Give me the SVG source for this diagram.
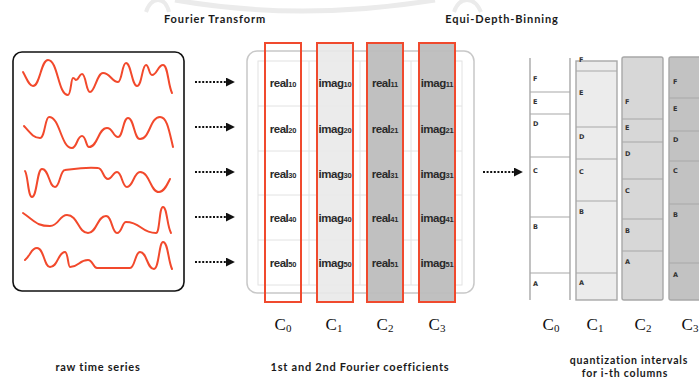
<svg xmlns="http://www.w3.org/2000/svg" width="699" height="379" viewBox="0 0 699 379">
  <defs>
    <marker id="arrowhead" viewBox="0 0 10 10" refX="9" refY="5" markerWidth="4.5" markerHeight="4.5" orient="auto" markerUnits="strokeWidth">
      <path d="M0,0 L10,5 L0,10 Z" fill="#111"/>
    </marker>
    <style>
      .title { font-family: Lato, "Open Sans", sans-serif; font-weight: 700; font-size: 11px; letter-spacing: 0.9px; fill: #1a1a1a; text-anchor: middle; }
      .caption { font-family: Lato, "Open Sans", sans-serif; font-weight: 700; font-size: 11px; letter-spacing: 0.75px; fill: #1a1a1a; text-anchor: middle; }
      .caption-sm { font-size: 10.5px; letter-spacing: 0.8px; }
      .wave { fill: none; stroke: #f2492c; stroke-width: 2; stroke-linecap: round; stroke-linejoin: round; }
      .flow { fill: none; stroke: #111; stroke-width: 2; stroke-dasharray: 2 1.6; marker-end: url(#arrowhead); }
      .grid { fill: none; stroke: #e2e2e2; stroke-width: 1; }
      .col { stroke: #f04a2e; stroke-width: 2; }
      .cell { font-family: "Liberation Sans", Arial, sans-serif; font-weight: 700; font-size: 11.5px; fill: #2a2a2a; text-anchor: middle; letter-spacing: -0.5px; }
      .sub { font-size: 7.5px; letter-spacing: -0.2px; }
      .clabel { font-family: "Liberation Serif", "Times New Roman", serif; font-size: 17px; fill: #111; text-anchor: middle; }
      .csub { font-size: 11px; }
      .bin { stroke: #a8a8a8; stroke-width: 1.4; }
      .binline { stroke: #a8a8a8; stroke-width: 1.2; }
      .blabel { font-family: "DejaVu Sans", sans-serif; font-weight: 700; font-size: 6.5px; fill: #333; }
    </style>
  </defs>

  <rect width="699" height="379" fill="#ffffff"/>

  <!-- faint emblem at the top edge -->
  <g id="emblem" fill="none" stroke="#ebebeb" stroke-width="5">
    <path d="M175,0 Q300,22 435,0"/>
    <path d="M146,12 Q150,0 158,0 Q166,0 169,12" stroke-width="4"/>
    <path d="M454,12 Q458,0 467,0 Q476,0 481,12" stroke-width="4"/>
  </g>

  <!-- stage titles -->
  <g id="titles">
    <text class="title" x="215" y="23">Fourier Transform</text>
    <text class="title" x="502" y="23">Equi-Depth-Binning</text>
  </g>

  <!-- raw time series panel -->
  <g id="raw-series">
    <rect x="13" y="52" width="171" height="239" rx="9" fill="#fff" stroke="#111" stroke-width="1.6"/>
    <path class="wave" d="M23,72 C27,79 29,86 33,86 C40,86 41,60 48,60 C58,60 58,95 68,95 C71,95 71,78 73,78 C75,78 75,80 76,80 C79,80 79,74 82,74 C86,74 86,92 90,92 C95,92 97,73 103,73 C110,73 112,82 118,82 C122,82 122,63 126,63 C131,63 132,86 137,86 C142,86 142,65 146,65 C149,65 149,75 152,75 C157,75 158,65 163,65 C168,65 168,85 172,93"/>
    <path class="wave" d="M24,126 C31,134 34,138 40,138 C45,138 45,117 49,117 C60,117 61,148 72,148 C77,148 77,136 82,136 C86,136 86,147 89,147 C98,147 98,128 107,128 C113,128 113,137 118,137 C123,137 123,118 128,118 C134,118 134,139 140,139 C150,139 150,117 160,117 C167,117 169,130 173,147"/>
    <path class="wave" d="M25,171 C28,175 28,197 32,197 C37,197 37,169 42,169 C49,169 49,187 55,187 C60,187 60,170 65,170 C80,168 85,167 98,168 C103,168 103,179 108,179 C112,179 113,172 117,172 C122,172 122,187 127,187 C133,187 134,172 140,172 C150,172 150,192 159,192 C164,192 167,185 170,179"/>
    <path class="wave" d="M23,213 C36,222 37,226 50,226 C59,226 59,215 67,215 C78,215 78,233 88,233 C97,233 97,216 106,216 C112,216 112,233 117,233 C122,233 122,222 126,222 C141,222 141,233 156,233 C160,233 159,207 163,207 C167,207 167,226 171,233"/>
    <path class="wave" d="M25,260 C31,255 31,248 37,248 C44,248 44,267 50,267 C58,267 58,252 65,252 C68,252 68,267 70,267 C79,267 79,260 88,260 C93,260 93,268 97,268 C113,268 114,268 130,268 C135,268 135,252 140,252 C147,252 147,269 154,269 C159,269 159,242 163,242 C168,242 168,260 172,269"/>
  </g>

  <!-- Fourier coefficient table -->
  <g id="coeff-table">
    <rect x="247" y="51" width="227" height="242" rx="10" fill="#fff" stroke="#c8c8c8" stroke-width="1.5"/>
    <rect class="grid" x="258" y="61" width="204" height="224"/>
    <path class="grid" d="M309,61 V285 M360,61 V285 M411,61 V285 M258,106 H462 M258,151 H462 M258,195 H462 M258,240 H462"/>
  </g>

  <g id="col-c0">
    <rect class="col" x="265" y="43" width="36" height="259" fill="none"/>
  </g>
  <g id="col-c1">
    <rect class="col" x="317" y="43" width="36" height="259" fill="#e9e9e9" fill-opacity="0.9"/>
  </g>
  <g id="col-c2">
    <rect class="col" x="367" y="43" width="36" height="259" fill="#bdbdbd" fill-opacity="0.95"/>
  </g>
  <g id="col-c3">
    <rect class="col" x="419" y="43" width="36" height="259" fill="#bdbdbd" fill-opacity="0.95"/>
  </g>

  <g id="cells">
    <text class="cell" x="283" y="87">real<tspan class="sub">10</tspan></text>
    <text class="cell" x="335" y="87">imag<tspan class="sub">10</tspan></text>
    <text class="cell" x="385" y="87">real<tspan class="sub">11</tspan></text>
    <text class="cell" x="437" y="87">imag<tspan class="sub">11</tspan></text>

    <text class="cell" x="283" y="133">real<tspan class="sub">20</tspan></text>
    <text class="cell" x="335" y="133">imag<tspan class="sub">20</tspan></text>
    <text class="cell" x="385" y="133">real<tspan class="sub">21</tspan></text>
    <text class="cell" x="437" y="133">imag<tspan class="sub">21</tspan></text>

    <text class="cell" x="283" y="178">real<tspan class="sub">30</tspan></text>
    <text class="cell" x="335" y="178">imag<tspan class="sub">30</tspan></text>
    <text class="cell" x="385" y="178">real<tspan class="sub">31</tspan></text>
    <text class="cell" x="437" y="178">imag<tspan class="sub">31</tspan></text>

    <text class="cell" x="283" y="222">real<tspan class="sub">40</tspan></text>
    <text class="cell" x="335" y="222">imag<tspan class="sub">40</tspan></text>
    <text class="cell" x="385" y="222">real<tspan class="sub">41</tspan></text>
    <text class="cell" x="437" y="222">imag<tspan class="sub">41</tspan></text>

    <text class="cell" x="283" y="267">real<tspan class="sub">50</tspan></text>
    <text class="cell" x="335" y="267">imag<tspan class="sub">50</tspan></text>
    <text class="cell" x="385" y="267">real<tspan class="sub">51</tspan></text>
    <text class="cell" x="437" y="267">imag<tspan class="sub">51</tspan></text>
  </g>

  <!-- quantization intervals -->
  <g id="bins-c0">
    <path class="bin" d="M530,58 V300 M570,58 V300"/>
    <path class="binline" d="M530,92 H570 M530,114 H570 M530,157 H570 M530,217 H570 M530,273 H570"/>
    <text class="blabel" x="533" y="81">F</text>
    <text class="blabel" x="533" y="104">E</text>
    <text class="blabel" x="533" y="126">D</text>
    <text class="blabel" x="533" y="173">C</text>
    <text class="blabel" x="533" y="229">B</text>
    <text class="blabel" x="533" y="286">A</text>
  </g>
  <g id="bins-c1">
    <rect class="bin" x="576" y="61" width="41" height="239" fill="#ececec"/>
    <path class="binline" d="M576,71 H617 M576,127 H617 M576,159 H617 M576,201 H617 M576,273 H617"/>
    <text class="blabel" x="579" y="62">F</text>
    <text class="blabel" x="579" y="95">E</text>
    <text class="blabel" x="579" y="139">D</text>
    <text class="blabel" x="579" y="174">C</text>
    <text class="blabel" x="579" y="214">B</text>
    <text class="blabel" x="579" y="285">A</text>
  </g>
  <g id="bins-c2">
    <rect class="bin" x="622" y="57" width="41" height="243" rx="2" fill="#d7d7d7"/>
    <path class="binline" d="M622,119 H663 M622,142 H663 M622,179 H663 M622,219 H663 M622,251 H663"/>
    <text class="blabel" x="625" y="104">F</text>
    <text class="blabel" x="625" y="130">E</text>
    <text class="blabel" x="625" y="156">D</text>
    <text class="blabel" x="625" y="193">C</text>
    <text class="blabel" x="625" y="233">B</text>
    <text class="blabel" x="625" y="264">A</text>
  </g>
  <g id="bins-c3">
    <rect class="bin" x="669" y="57" width="40" height="243" rx="2" fill="#c2c2c2"/>
    <path class="binline" d="M669,98 H699 M669,131 H699 M669,161 H699 M669,204 H699 M669,263 H699"/>
    <text class="blabel" x="673" y="84">F</text>
    <text class="blabel" x="673" y="111">E</text>
    <text class="blabel" x="673" y="142">D</text>
    <text class="blabel" x="673" y="173">C</text>
    <text class="blabel" x="673" y="217">B</text>
    <text class="blabel" x="673" y="277">A</text>
  </g>

  <!-- column labels -->
  <g id="column-labels">
    <text class="clabel" x="283" y="330">C<tspan class="csub" dy="2">0</tspan></text>
    <text class="clabel" x="334" y="330">C<tspan class="csub" dy="2">1</tspan></text>
    <text class="clabel" x="385" y="330">C<tspan class="csub" dy="2">2</tspan></text>
    <text class="clabel" x="437" y="330">C<tspan class="csub" dy="2">3</tspan></text>
    <text class="clabel" x="551" y="330">C<tspan class="csub" dy="2">0</tspan></text>
    <text class="clabel" x="595" y="330">C<tspan class="csub" dy="2">1</tspan></text>
    <text class="clabel" x="643" y="330">C<tspan class="csub" dy="2">2</tspan></text>
    <text class="clabel" x="690" y="330">C<tspan class="csub" dy="2">3</tspan></text>
  </g>

  <!-- connectors -->
  <g id="connectors">
    <path class="flow" d="M195,82 H234"/>
    <path class="flow" d="M195,127 H234"/>
    <path class="flow" d="M195,172 H234"/>
    <path class="flow" d="M195,217 H234"/>
    <path class="flow" d="M195,262 H234"/>
    <path class="flow" d="M483,172 H522"/>
  </g>

  <!-- captions -->
  <g id="captions">
    <text class="caption" x="98" y="371">raw time series</text>
    <text class="caption" x="360" y="371">1st and 2nd Fourier coefficients</text>
    <text class="caption caption-sm" x="629" y="364">quantization intervals</text>
    <text class="caption caption-sm" x="625" y="377">for i-th columns</text>
  </g>
</svg>
